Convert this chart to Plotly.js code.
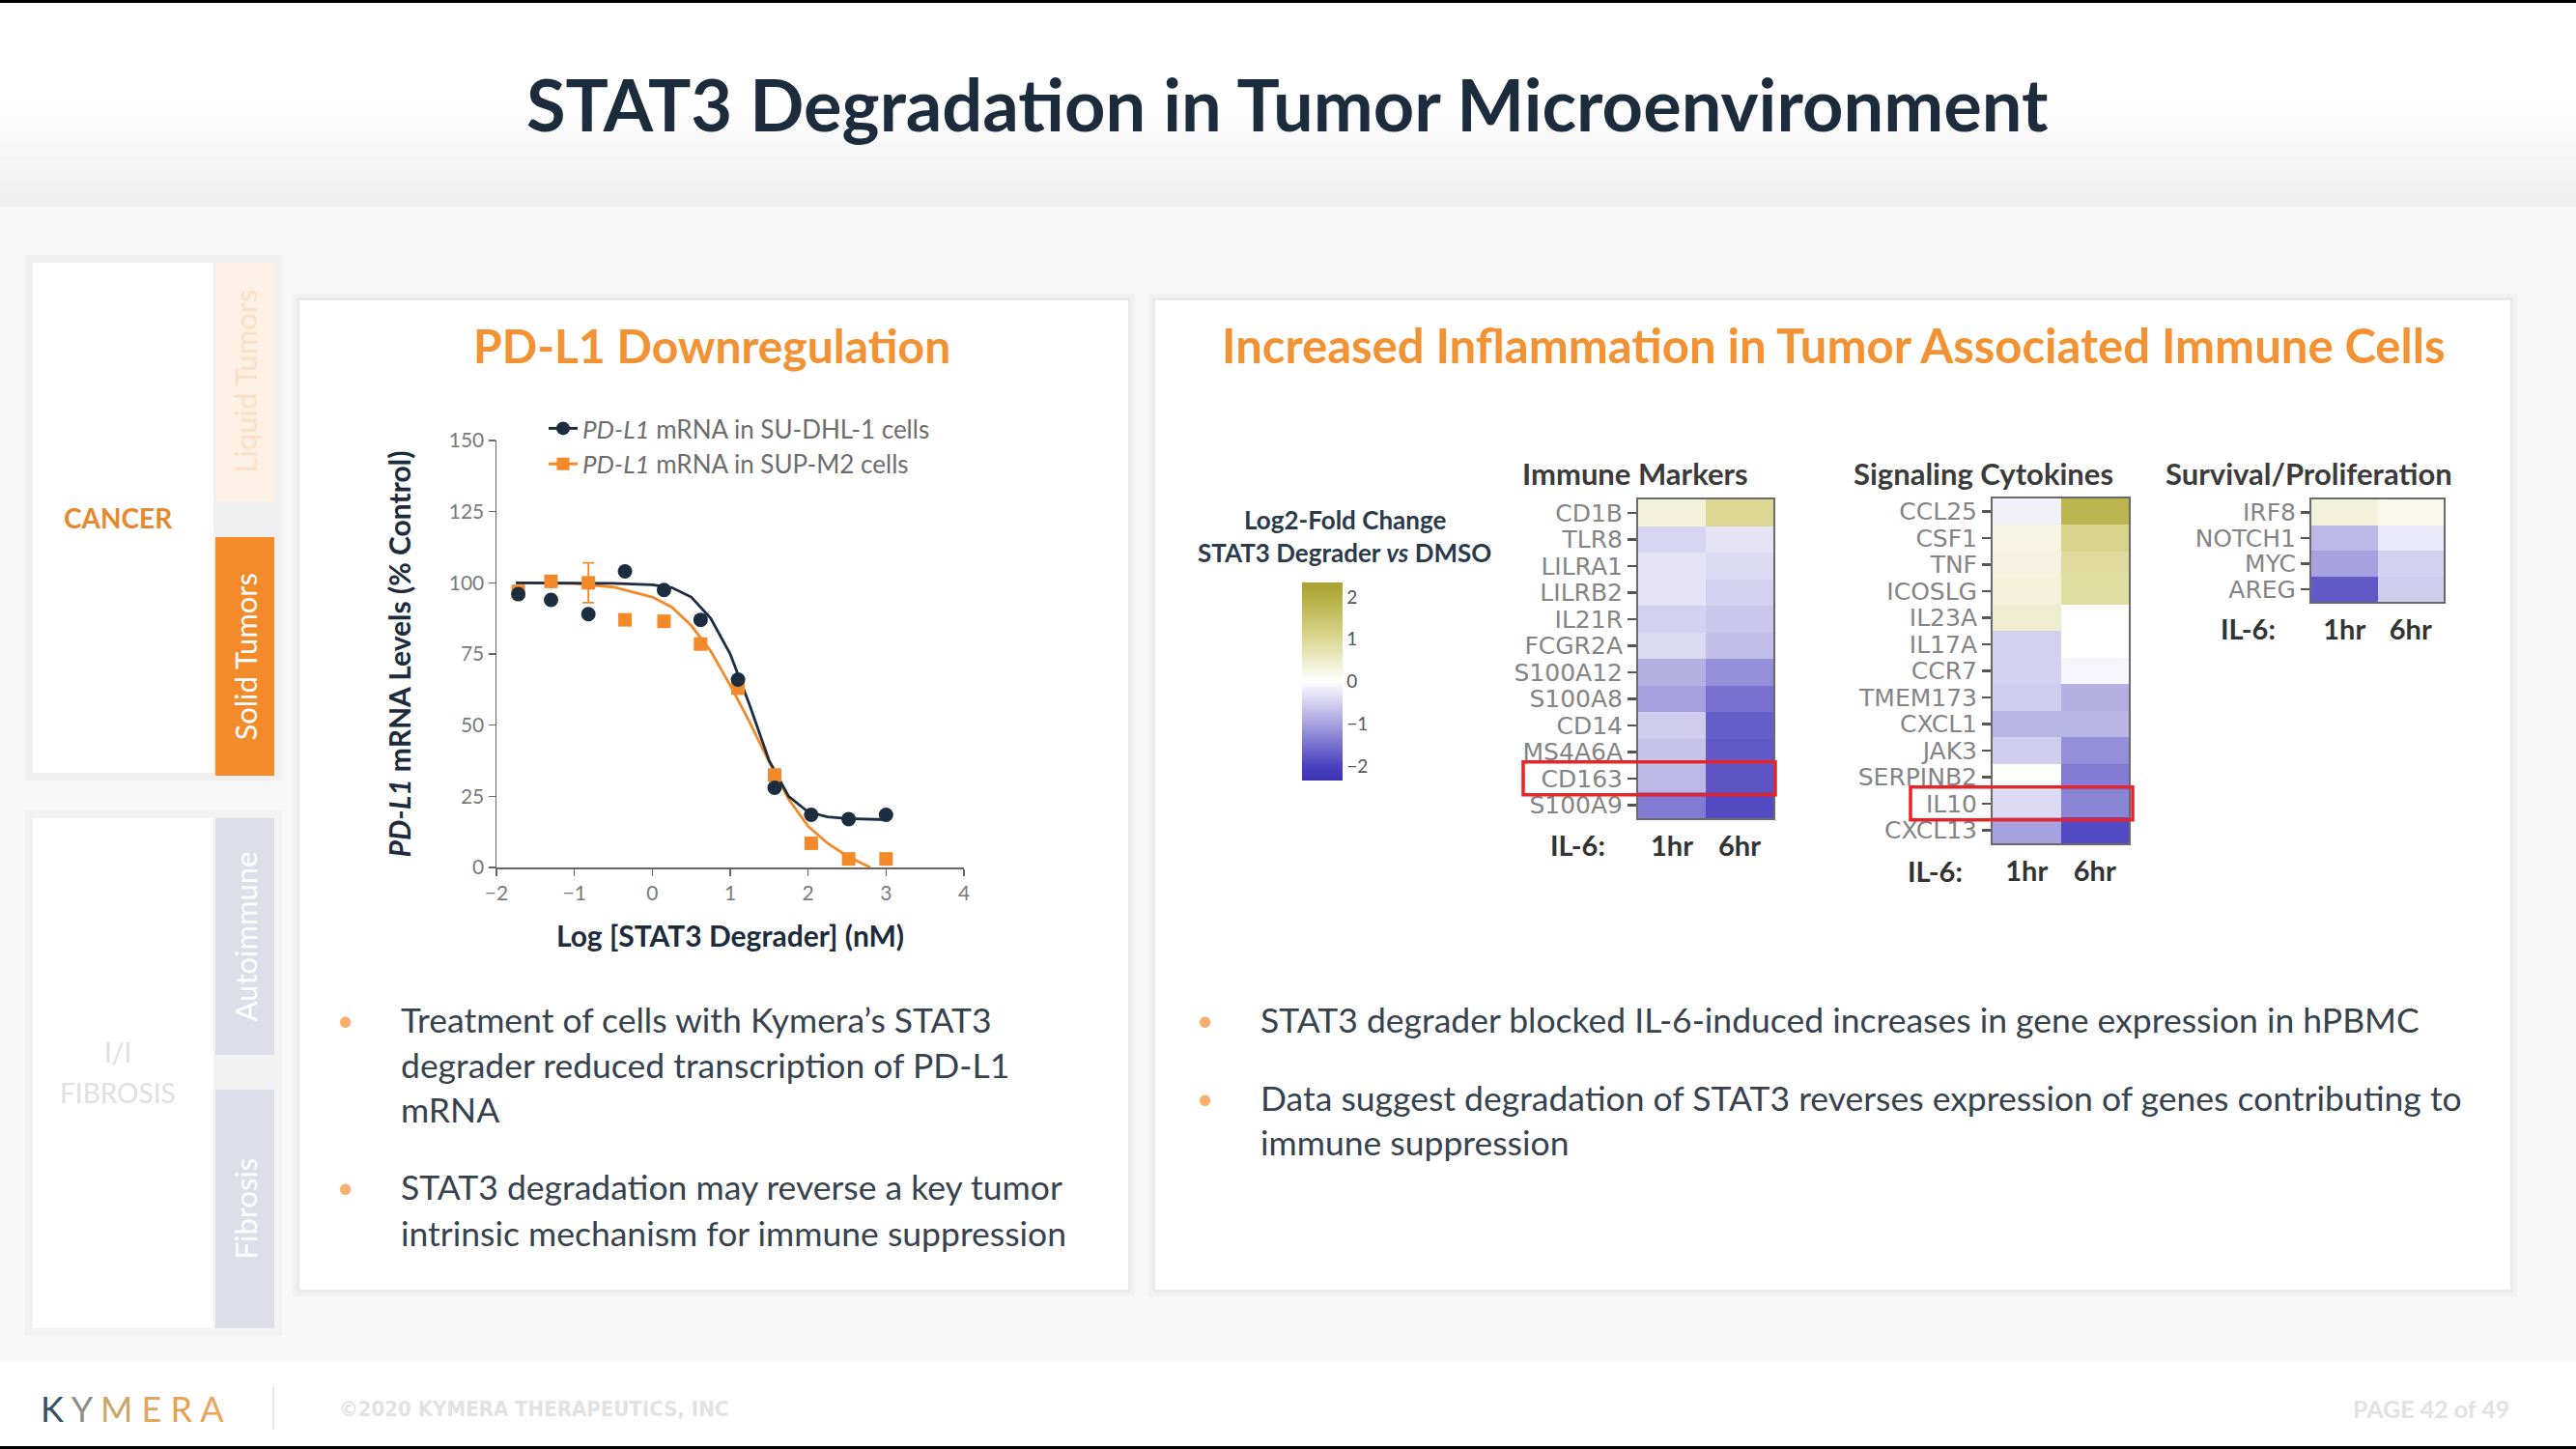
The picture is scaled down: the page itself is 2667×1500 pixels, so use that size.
<!DOCTYPE html>
<html><head><meta charset="utf-8">
<script src="https://cdn.plot.ly/plotly-3.0.1.min.js"></script>
<style>html,body{margin:0;padding:0;background:#fff;}#chart{width:2667px;height:1500px;}</style>
</head><body><div id="chart"></div>
<script>
const W = 2667, H = 1500;
const px = x => x / W, py = y => 1 - y / H;

// ---- Dose-response data ----
const logDose   = [-1.72, -1.30, -0.82, -0.35, 0.15, 0.62, 1.10, 1.57, 2.04, 2.52, 3.00];
const suDhl1    = [96, 94, 89, 104, 97.5, 87, 66, 28, 18.5, 17, 18.5];
const supM2     = [97, 100.5, 100, 87, 86.5, 78.5, 63, 32.5, 8.5, 3, 3];
const supM2Err  = [null, null, 7, null, null, null, null, null, null, null, null];
const fitXDhl   = [-1.75, -1.0, -0.5, 0.0, 0.25, 0.5, 0.75, 1.0, 1.25, 1.5, 1.75, 2.0, 2.25, 2.5, 2.75, 3.0];
const fitSuDhl1 = [100, 100, 99.8, 99.3, 98.3, 95, 87.5, 75, 57, 37.5, 25, 19.5, 17.8, 17.2, 17, 16.8];
const fitXSup   = [-1.75, -1.0, -0.5, 0.0, 0.25, 0.5, 0.75, 1.0, 1.25, 1.5, 1.75, 2.0, 2.25, 2.5, 2.8];
const fitSupM2  = [100, 99.7, 98.5, 95, 91.5, 85, 76, 64, 51, 37, 24, 14.5, 8.5, 4, 0];
const xTicks = [-2, -1, 0, 1, 2, 3, 4];
const yTicks = [0, 25, 50, 75, 100, 125, 150];

// ---- Heatmap data: log2 fold change, STAT3 degrader vs DMSO ----
const timeLabels = ['1hr', '6hr'];
const immuneGenes = ['CD1B','TLR8','LILRA1','LILRB2','IL21R','FCGR2A','S100A12','S100A8','CD14','MS4A6A','CD163','S100A9'];
const immune1hr   = [0.35, -0.45, -0.3, -0.3, -0.5, -0.4, -0.85, -1.0, -0.55, -0.65, -0.75, -1.4];
const immune6hr   = [1.0, -0.3, -0.4, -0.5, -0.6, -0.7, -1.2, -1.5, -1.7, -1.75, -1.8, -1.9];
const cytoGenes = ['CCL25','CSF1','TNF','ICOSLG','IL23A','IL17A','CCR7','TMEM173','CXCL1','JAK3','SERPINB2','IL10','CXCL13'];
const cyto1hr   = [-0.15, 0.25, 0.3, 0.35, 0.45, -0.5, -0.5, -0.55, -0.8, -0.55, 0.05, -0.4, -1.0];
const cyto6hr   = [1.8, 1.1, 0.9, 0.85, 0.0, 0.0, -0.1, -0.85, -0.8, -1.2, -1.4, -1.3, -1.9];
const survGenes = ['IRF8','NOTCH1','MYC','AREG'];
const surv1hr   = [0.35, -0.75, -1.0, -1.75];
const surv6hr   = [0.2, -0.25, -0.5, -0.55];
const cbTicks = [-2, -1, 0, 1, 2];
const zLim = 2.34;
const highlight = {immune: 'CD163', cyto: 'IL10'};

// ---- Slide text ----
const leftBullets = [
  ['Treatment of cells with Kymera’s STAT3', 'degrader reduced transcription of PD-L1', 'mRNA'],
  ['STAT3 degradation may reverse a key tumor', 'intrinsic mechanism for immune suppression']
];
const rightBullets = [
  ['STAT3 degrader blocked IL-6-induced increases in gene expression in hPBMC'],
  ['Data suggest degradation of STAT3 reverses expression of genes contributing to', 'immune suppression']
];

const NAVY = '#1d2c3c', ORANGE = '#f28a2a', DOT = '#1c2d3f';
const FONT = 'Lato, "Open Sans", sans-serif';
const colorscale = [[0,'#3c32b4'],[0.073,'#4a41c0'],[0.286,'#a7a2df'],[0.5,'#ffffff'],[0.714,'#dcd894'],[0.927,'#b4ae40'],[1,'#a9a232']];

// ---- Traces ----
const traces = [];
traces.push({x: fitXSup, y: fitSupM2, type:'scatter', mode:'lines', line:{color:ORANGE, width:2.8}, showlegend:false, xaxis:'x', yaxis:'y'});
traces.push({x: fitXDhl, y: fitSuDhl1, type:'scatter', mode:'lines', line:{color:DOT, width:2.8}, showlegend:false, xaxis:'x', yaxis:'y'});
traces.push({x: logDose, y: supM2, type:'scatter', mode:'markers', marker:{symbol:'square', size:14, color:ORANGE},
  error_y:{type:'data', array:supM2Err, visible:true, color:ORANGE, thickness:1.8, width:6}, cliponaxis:false, showlegend:false, xaxis:'x', yaxis:'y'});
traces.push({x: logDose, y: suDhl1, type:'scatter', mode:'markers', marker:{symbol:'circle', size:15, color:DOT}, cliponaxis:false, showlegend:false, xaxis:'x', yaxis:'y'});
traces.push({x:[null], y:[null], type:'scatter', mode:'lines+markers', name:'<i>PD-L1</i> mRNA in SU-DHL-1 cells', line:{color:DOT, width:3}, marker:{symbol:'circle', size:14, color:DOT}, xaxis:'x', yaxis:'y'});
traces.push({x:[null], y:[null], type:'scatter', mode:'lines+markers', name:'<i>PD-L1</i> mRNA in SUP-M2 cells', line:{color:ORANGE, width:3}, marker:{symbol:'square', size:13, color:ORANGE}, xaxis:'x', yaxis:'y'});

function hm(genes, a, b, xa, ya, showscale) {
  const t = {type:'heatmap', x: timeLabels, y: genes, z: genes.map((g, i) => [a[i], b[i]]),
    zmin:-zLim, zmax:zLim, colorscale: colorscale, showscale: showscale, xaxis: xa, yaxis: ya, hoverinfo:'skip'};
  if (showscale) t.colorbar = {x: px(1338), xanchor:'left', xref:'paper', y: py(705.5), yanchor:'middle', yref:'paper',
    len: 205, lenmode:'pixels', thickness: 42, thicknessmode:'pixels', outlinewidth:0, ticks:'', ticklabelstandoff:10,
    tickvals: cbTicks, ticktext: cbTicks.map(v => v < 0 ? '\u2212' + Math.abs(v) : String(v)),
    tickfont:{family:FONT, size:19, color:'#555'}, ypad:0, xpad:10};
  return t;
}
traces.push(hm(immuneGenes, immune1hr, immune6hr, 'x2', 'y2', true));
traces.push(hm(cytoGenes, cyto1hr, cyto6hr, 'x3', 'y3', false));
traces.push(hm(survGenes, surv1hr, surv6hr, 'x4', 'y4', false));

// ---- Shapes (slide background) ----
const shapes = [];
function rect(x0, y0, x1, y1, fill, extra) {
  shapes.push(Object.assign({type:'rect', xref:'paper', yref:'paper', x0:px(x0), x1:px(x1), y0:py(y1), y1:py(y0),
    fillcolor:fill, line:{width:0}, layer:'below'}, extra || {}));
}
rect(0, 0, W, 1500, '#f7f7f7');
rect(0, 0, W, 213, '#ffffff');
const hdr = ['#fdfdfd','#fbfbfb','#f9f9f9','#f7f7f7','#f5f5f5','#f3f3f3','#f1f1f1','#f0f0f0'];
hdr.forEach((c, i) => rect(0, 110 + i * 13, W, 123 + i * 13, c));
rect(0, 0, W, 3, '#000000');
rect(0, 1410, W, 1497, '#ffffff');
rect(0, 1497, W, 1500, '#000000');
shapes.push({type:'line', xref:'paper', yref:'paper', x0:px(283), x1:px(283), y0:py(1436), y1:py(1480), line:{color:'#e6e6e6', width:2}, layer:'below'});
[[310, 311, 1168, 1335], [1196, 311, 2599, 1335]].forEach(p => {
  rect(p[0]-7, p[1]-7, p[2]+7, p[3]+7, '#f1f1f1');
  rect(p[0]-3, p[1]-3, p[2]+3, p[3]+3, '#eaeaea');
  rect(p[0], p[1], p[2], p[3], '#ffffff');
});
rect(26, 264, 292, 808, '#f0f0f0');
rect(34, 272, 221, 800, '#ffffff');
rect(26, 839, 292, 1383, '#f2f2f2');
rect(34, 847, 221, 1375, '#ffffff');
rect(223, 272, 284, 519, '#fdf1e5');
rect(223, 556, 284, 803, '#f48b2b');
rect(223, 847, 284, 1092, '#dcdfea');
rect(223, 1128, 284, 1375, '#dcdfea');
const iIdx = immuneGenes.indexOf(highlight.immune), cIdx = cytoGenes.indexOf(highlight.cyto);
shapes.push({type:'rect', xref:'paper', yref:'y2', x0:px(1577), x1:px(1838), y0:iIdx-0.62, y1:iIdx+0.62, line:{color:'#e8242b', width:3.5}, fillcolor:'rgba(0,0,0,0)', layer:'above'});
shapes.push({type:'rect', xref:'paper', yref:'y3', x0:px(1978), x1:px(2208), y0:cIdx-0.62, y1:cIdx+0.62, line:{color:'#e8242b', width:3.5}, fillcolor:'rgba(0,0,0,0)', layer:'above'});

// ---- Annotations ----
const ann = [];
function txt(text, x, y, size, color, opts) {
  ann.push(Object.assign({text:text, x:px(x), y:py(y), xref:'paper', yref:'paper', showarrow:false,
    xanchor:'center', yanchor:'middle', font:{family:FONT, size:size, color:color}}, opts || {}));
}
const B = (size, color) => ({font:{family:FONT, size:size, color:color, weight:'bold'}});
txt('STAT3 Degradation in Tumor Microenvironment', 1333, 107, 74, NAVY, B(74, NAVY));
txt('PD-L1 Downregulation', 737, 357, 48, ORANGE, B(48, '#f39233'));
txt('Increased Inflammation in Tumor Associated Immune Cells', 1898, 357, 49, ORANGE, B(49, '#f39233'));
txt('CANCER', 122, 536, 28, '#e38a2f', B(28, '#e38a2f'));
txt('I/I', 122, 1089, 28, '#e0e0e0');
txt('FIBROSIS', 122, 1131, 28, '#e0e0e0');
txt('Liquid Tumors', 253.5, 395, 31, '#fbe0c3', {textangle:-90});
txt('Solid Tumors', 253.5, 680, 31, '#ffffff', {textangle:-90});
txt('Autoimmune', 253.5, 970, 31, '#ffffff', {textangle:-90});
txt('Fibrosis', 253.5, 1251, 31, '#ffffff', {textangle:-90});
txt('Immune Markers', 1693, 490, 31, '#3b3b3b', B(31, '#3b3b3b'));
txt('Signaling Cytokines', 2053, 490, 31, '#3b3b3b', B(31, '#3b3b3b'));
txt('Survival/Proliferation', 2390, 490, 31, '#3b3b3b', B(31, '#3b3b3b'));
txt('IL-6:', 1633, 874, 29, '#333', B(29, '#333'));
txt('IL-6:', 2003, 901, 29, '#333', B(29, '#333'));
txt('IL-6:', 2327, 651, 29, '#333', B(29, '#333'));
txt('Log2-Fold Change', 1392, 538, 26, '#2b3a4a', B(26, '#2b3a4a'));
txt('STAT3 Degrader <i>vs</i> DMSO', 1392, 572, 26, '#2b3a4a', B(26, '#2b3a4a'));
function bullets(list, xDot, xText, ys) {
  let k = 0;
  list.forEach(lines => {
    txt('•', xDot, ys[k], 30, '#f6b06a');
    lines.forEach(l => { txt(l, xText, ys[k], 35.5, '#36424e', {xanchor:'left'}); k++; });
  });
}
bullets(leftBullets, 357, 413, [1055, 1102, 1148, 1228, 1276]);
bullets(rightBullets, 1247, 1303, [1055, 1136, 1182]);
const logoCols = ['#34506a','#8d8f86','#c9a66c','#e6a55a','#e9a04f','#eaa65e'];
txt('KYMERA'.split('').map((c, i) => '<span style="color:' + logoCols[i] + '">' + c + '</span>').join('<span> </span>'), 137, 1458, 36, '#555');
txt('©2020 KYMERA THERAPEUTICS, INC', 552, 1458, 22, '#e2e2e2', {font:{family:'"Liberation Sans Narrow", "DejaVu Sans Condensed", sans-serif', size:22, color:'#e2e2e2', weight:'bold'}});
txt('PAGE 42 of 49', 2600, 1458, 25, '#e2e2e2', Object.assign({xanchor:'right'}, B(25, '#e2e2e2')));

// ---- Axes ----
const axLine = {showline:true, linecolor:'#666', linewidth:1.5, ticks:'outside', ticklen:7, tickwidth:1.5, tickcolor:'#666',
  showgrid:false, zeroline:false, tickfont:{family:FONT, size:21, color:'#7a7a7a'}};
function hx(d0, d1, anchor) {
  return {domain:[px(d0), px(d1)], anchor:anchor, type:'category', showline:true, mirror:true, linecolor:'#6a6a6a', linewidth:2,
    tickmode:'array', tickvals: timeLabels, ticktext: timeLabels,
    ticks:'', showgrid:false, zeroline:false, ticklabelstandoff:2, tickfont:{family:FONT, size:29, color:'#333', weight:'bold'}, fixedrange:true};
}
function hy(d0, d1, anchor, genes) {
  return {domain:[py(d1), py(d0)], anchor:anchor, type:'category', autorange:'reversed', showline:true, mirror:true,
    tickmode:'array', tickvals: genes, ticktext: genes,
    linecolor:'#6a6a6a', linewidth:2, ticks:'outside', ticklen:9, tickwidth:2.5, tickcolor:'#555', showgrid:false, zeroline:false,
    tickfont:{family:'"DejaVu Sans", sans-serif', size:25, color:'#848484'}, fixedrange:true};
}

const layout = {
  width: W, height: H, margin:{l:0, r:0, t:0, b:0}, paper_bgcolor:'#ffffff', plot_bgcolor:'rgba(0,0,0,0)',
  showlegend: true,
  legend:{x:px(563), y:py(420), xanchor:'left', yanchor:'top', bgcolor:'rgba(0,0,0,0)', font:{family:FONT, size:26, color:'#6d6d6d'}, itemwidth:30},
  xaxis: Object.assign({}, axLine, {domain:[px(514), px(998)], anchor:'y', range:[-2, 4], tickvals:xTicks,
    title:{text:'Log [STAT3 Degrader] (nM)', standoff:24, font:{family:FONT, size:30, color:NAVY, weight:'bold'}}}),
  yaxis: Object.assign({}, axLine, {domain:[py(898), py(456)], anchor:'x', range:[0, 150], tickvals:yTicks,
    title:{text:'<i>PD-L1</i> mRNA Levels (% Control)', standoff:30, font:{family:FONT, size:30, color:NAVY, weight:'bold'}}}),
  xaxis2: hx(1696, 1836, 'y2'), yaxis2: hy(517, 847, 'x2', immuneGenes),
  xaxis3: hx(2063, 2204, 'y3'), yaxis3: hy(516, 873, 'x3', cytoGenes),
  xaxis4: hx(2393, 2530, 'y4'), yaxis4: hy(517, 623, 'x4', survGenes),
  shapes: shapes, annotations: ann, hovermode:false
};
Plotly.newPlot('chart', traces, layout, {staticPlot:true});
</script></body></html>
